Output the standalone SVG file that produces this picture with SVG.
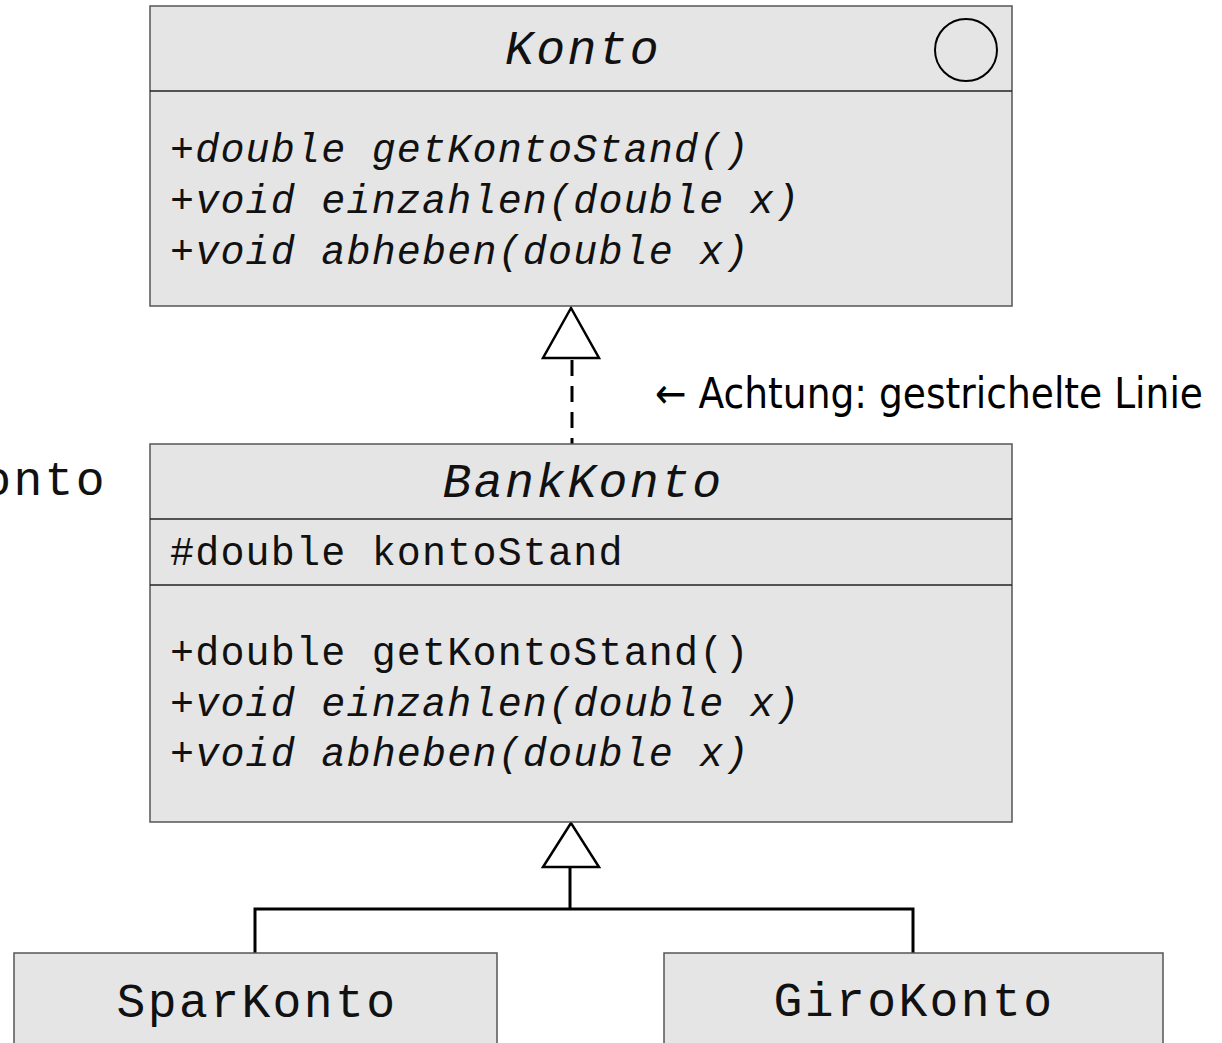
<svg xmlns="http://www.w3.org/2000/svg" width="1222" height="1043" viewBox="0 0 1222 1043">
<style>
.box{fill:#e5e5e5;stroke:#555;stroke-width:1.5}
.div{stroke:#222;stroke-width:1.5}
.t{font-family:"Liberation Mono","Courier New",monospace;fill:#111}
.title{font-size:48px;letter-spacing:2.4px;text-anchor:middle}
.m{font-size:40px;letter-spacing:1.2px}
.i{font-style:italic}
.c{fill:none;stroke:#000;stroke-width:3}
.tri{fill:#fff;stroke:#000;stroke-width:2.5;stroke-linejoin:miter}
.note{font-family:"DejaVu Sans","Liberation Sans",sans-serif;font-size:42px;fill:#000}
</style>
<rect width="1222" height="1043" fill="#fff"/>
<g id="connectors">
<line class="c" x1="572" y1="360" x2="572" y2="444" stroke-dasharray="16 10"/>
<polygon class="tri" points="571,308 543,358 599,358"/>
<polyline class="c" points="570,867 570,909"/>
<polyline class="c" points="255,953 255,909 913,909 913,953"/>
<polygon class="tri" points="571,823 543,867 599,867"/>
</g>
<g id="konto">
<rect class="box" x="150" y="6" width="862" height="300"/>
<line class="div" x1="150" y1="91" x2="1012" y2="91"/>
<ellipse cx="966" cy="50" rx="31" ry="31" fill="none" stroke="#000" stroke-width="2"/>
<text class="t title i" x="583" y="64">Konto</text>
<text class="t m i" x="170" y="162">+double getKontoStand()</text>
<text class="t m i" x="170" y="213">+void einzahlen(double x)</text>
<text class="t m i" x="170" y="264">+void abheben(double x)</text>
</g>
<g id="bankkonto">
<rect class="box" x="150" y="444" width="862" height="378"/>
<line class="div" x1="150" y1="519" x2="1012" y2="519"/>
<line class="div" x1="150" y1="585" x2="1012" y2="585"/>
<text class="t title i" x="583" y="497">BankKonto</text>
<text class="t m" x="170" y="565">#double kontoStand</text>
<text class="t m" x="170" y="665">+double getKontoStand()</text>
<text class="t m i" x="170" y="716">+void einzahlen(double x)</text>
<text class="t m i" x="170" y="766">+void abheben(double x)</text>
</g>
<g id="sparkonto">
<rect class="box" x="14" y="953" width="483" height="110"/>
<text class="t title" x="257" y="1017">SparKonto</text>
</g>
<g id="girokonto">
<rect class="box" x="664" y="953" width="499" height="110"/>
<text class="t title" x="914" y="1016">GiroKonto</text>
</g>
<g id="labels">
<text class="t" font-size="48" letter-spacing="2.4" text-anchor="end" x="107" y="495">onto</text>
<text class="note" x="655" y="408" textLength="548" lengthAdjust="spacingAndGlyphs">← Achtung: gestrichelte Linie</text>
</g>
</svg>
